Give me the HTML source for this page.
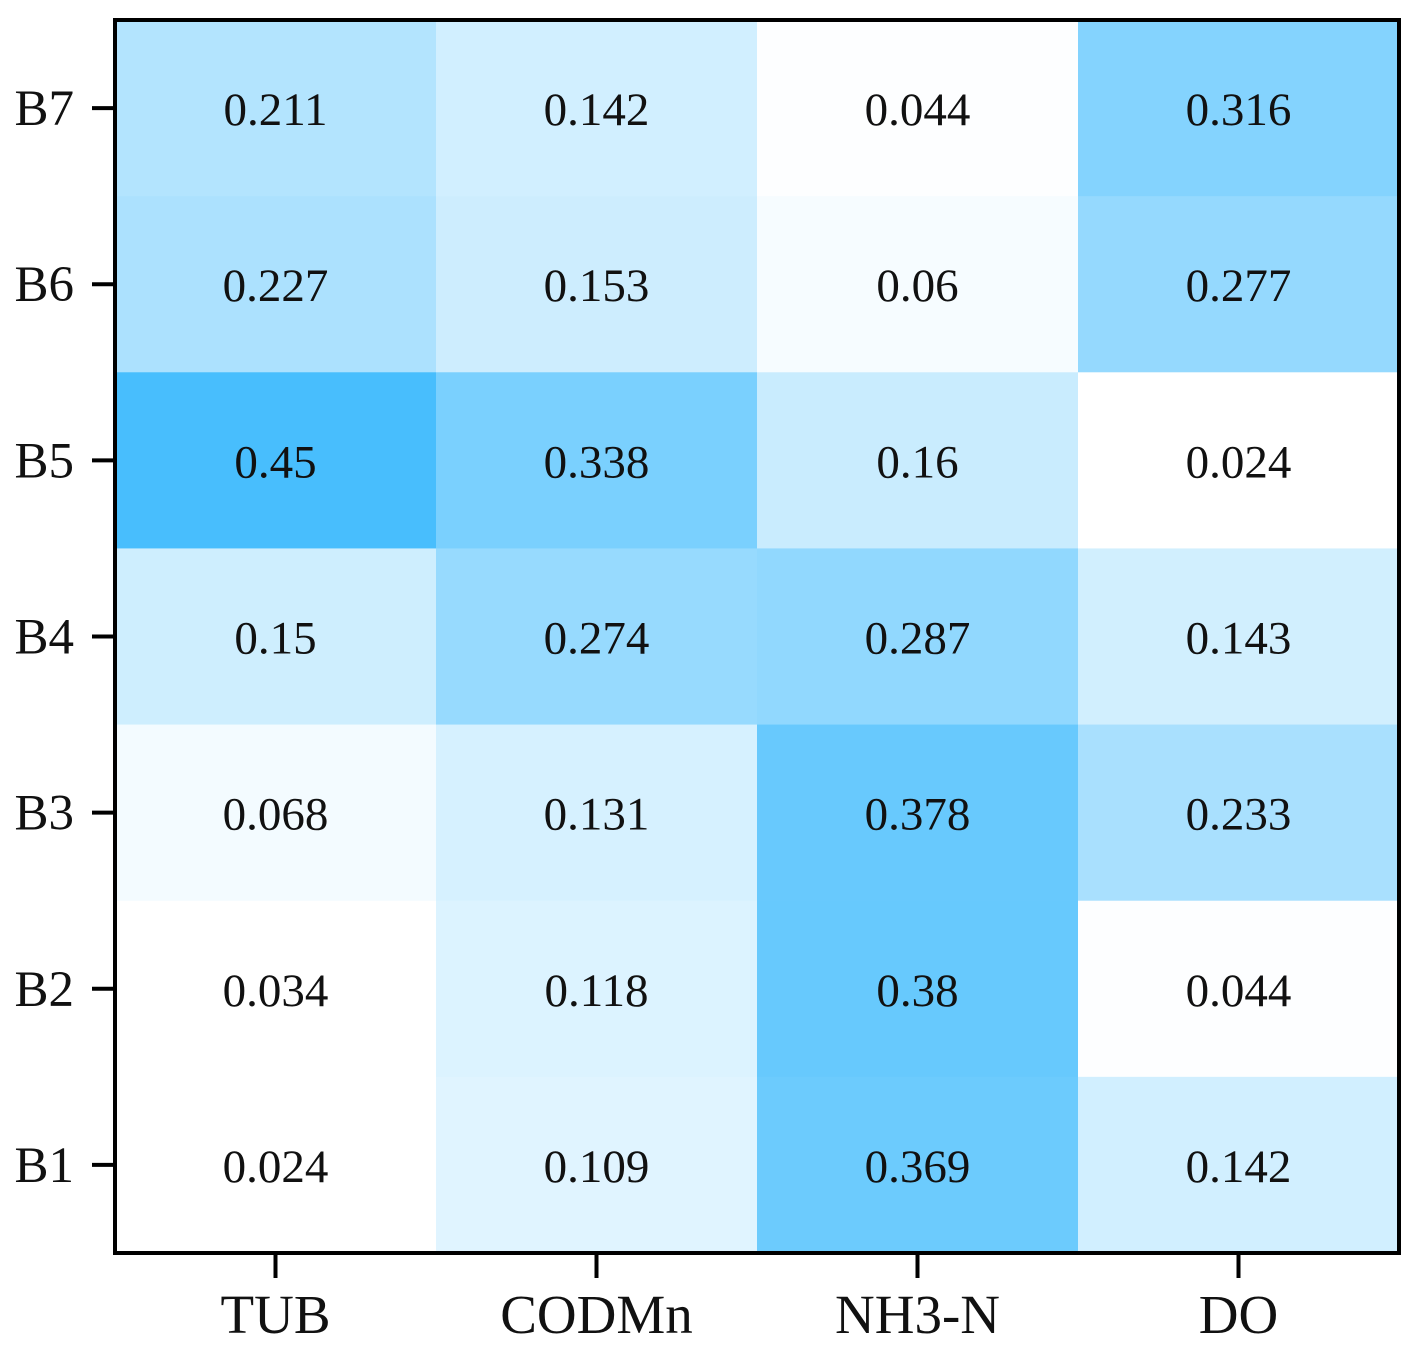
<!DOCTYPE html>
<html><head><meta charset="utf-8"><style>
html,body{margin:0;padding:0;background:#fff;}
svg{display:block;font-family:"Liberation Serif",serif;}
</style></head><body>
<svg id="chart" width="1419" height="1352" viewBox="0 0 1419 1352" xmlns="http://www.w3.org/2000/svg">
<g id="cells"></g><g id="labels"></g><g id="axes"></g>
</svg>
<script>
const columns = ["TUB","CODMn","NH3-N","DO"];
const rows = ["B7","B6","B5","B4","B3","B2","B1"];
const valTUB = [0.211,0.227,0.45,0.15,0.068,0.034,0.024];
const valCODMn = [0.142,0.153,0.338,0.274,0.131,0.118,0.109];
const valNH3N = [0.044,0.06,0.16,0.287,0.378,0.38,0.369];
const valDO = [0.316,0.277,0.024,0.143,0.233,0.044,0.142];
const series = [valTUB,valCODMn,valNH3N,valDO];

const L=115,R=1399,T=20,B=1253;
const cw=(R-L)/columns.length, rh=(B-T)/rows.length;
const xPos=i=>L+cw*i, yPos=j=>T+rh*j;
function color(v){let t=(v-0.04)/0.41;t=Math.max(0,Math.min(1,t));
 return `rgb(${Math.round(255-183*t)},${Math.round(255-65*t)},${Math.round(255-2*t)})`;}
const NS="http://www.w3.org/2000/svg";
const cells=document.getElementById('cells'),labels=document.getElementById('labels'),axes=document.getElementById('axes');
function mk(tag,attrs,parent,text){const e=document.createElementNS(NS,tag);for(const k in attrs)e.setAttribute(k,attrs[k]);if(text!==undefined)e.textContent=text;parent.appendChild(e);return e;}
series.forEach((vals,i)=>{vals.forEach((v,j)=>{
 const r=mk('rect',{x:xPos(i),y:yPos(j),width:cw+0.5,height:rh+0.5,fill:color(v)},cells);
 
 
 const t=mk('text',{x:xPos(i)+cw/2,y:yPos(j)+rh/2+17,'text-anchor':'middle','font-size':47,fill:'#111'},labels,String(v));
 
 
});});
const frame=mk('rect',{x:L,y:T,width:R-L,height:B-T,fill:'none',stroke:'#000','stroke-width':4},axes);


rows.forEach((r,j)=>{const y=yPos(j)+rh/2;
 const tk=mk('line',{x1:92,x2:L,y1:y,y2:y,stroke:'#000','stroke-width':4},axes);
 
 
 const t=mk('text',{x:74,y:y+17,'text-anchor':'end','font-size':51,fill:'#111'},axes,r);
 
 
});
columns.forEach((c,i)=>{const x=xPos(i)+cw/2;
 const tk=mk('line',{x1:x,x2:x,y1:B,y2:1278,stroke:'#000','stroke-width':4},axes);
 
 
 const t=mk('text',{x:x,y:1333,'text-anchor':'middle','font-size':55,fill:'#111'},axes,c);
 
 
});
</script>
</body></html>
